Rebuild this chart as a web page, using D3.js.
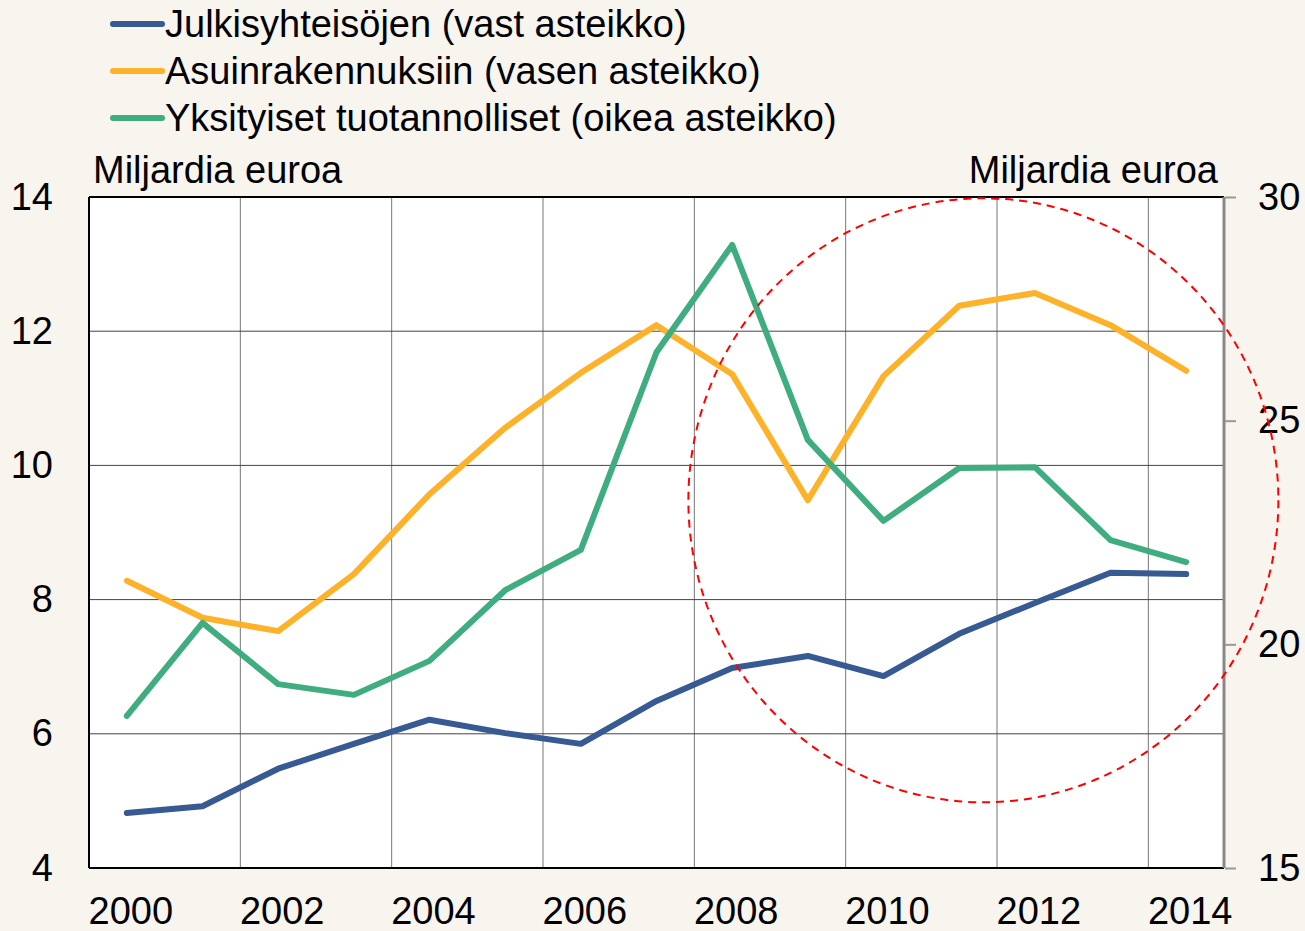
<!DOCTYPE html>
<html><head><meta charset="utf-8">
<script src="https://cdnjs.cloudflare.com/ajax/libs/d3/7.8.5/d3.min.js"></script>
<style>
html,body{margin:0;padding:0;background:#f8f4ee;}
svg{display:block;font-family:"Liberation Sans",Arial,sans-serif;}
</style></head><body>
<script>
const years = [2000,2001,2002,2003,2004,2005,2006,2007,2008,2009,2010,2011,2012,2013,2014];
const julkis = [4.82,4.92,5.48,5.85,6.21,6.01,5.85,6.49,6.98,7.16,6.86,7.49,7.95,8.40,8.38];
const asuin = [8.28,7.73,7.53,8.38,9.57,10.56,11.38,12.09,11.36,9.48,11.33,12.38,12.57,12.09,11.41];
const yksit = [18.40,20.48,19.11,18.87,19.63,21.21,22.11,26.53,28.93,24.57,22.76,23.94,23.96,22.33,21.84];
const leftTicks = [4,6,8,10,12,14];
const rightTicks = [15,20,25,30];
const xTickYears = [2000,2002,2004,2006,2008,2010,2012,2014];
const legendLabels = ["Julkisyhteisöjen (vast asteikko)","Asuinrakennuksiin (vasen asteikko)","Yksityiset tuotannolliset (oikea asteikko)"];
const colors = ["#365a91","#fdb22a","#40ad80"];
const unitLabel = "Miljardia euroa";

const W=1305,H=931;
const L=89,R=1224,T=197,B=868;
const FS=38;
const svg=d3.select("body").append("svg").attr("width",W).attr("height",H);
svg.append("rect").attr("width",W).attr("height",H).attr("fill","#f8f4ee");

const x=d3.scaleLinear().domain([2000,2015]).range([L,R]);
const yL=d3.scaleLinear().domain([4,14]).range([B,T]);
const yR=d3.scaleLinear().domain([15,30]).range([B,T]);

svg.append("rect").attr("x",L).attr("y",T).attr("width",R-L).attr("height",B-T).attr("fill","#fff");

// grid
svg.append("g").selectAll("line").data(xTickYears.slice(1)).join("line")
 .attr("x1",d=>x(d)).attr("x2",d=>x(d)).attr("y1",T).attr("y2",B)
 .attr("stroke","#777").attr("stroke-width",1);
svg.append("g").selectAll("line").data(leftTicks.slice(1,-1)).join("line")
 .attr("x1",L).attr("x2",R).attr("y1",d=>yL(d)).attr("y2",d=>yL(d))
 .attr("stroke","#444").attr("stroke-width",1);

// frame
svg.append("line").attr("x1",L).attr("x2",R).attr("y1",T).attr("y2",T).attr("stroke","#000").attr("stroke-width",2);
svg.append("line").attr("x1",L).attr("x2",R).attr("y1",B).attr("y2",B).attr("stroke","#000").attr("stroke-width",2);
svg.append("line").attr("x1",L).attr("x2",L).attr("y1",T).attr("y2",B).attr("stroke","#000").attr("stroke-width",2);
svg.append("line").attr("x1",R).attr("x2",R).attr("y1",T).attr("y2",B).attr("stroke","#888").attr("stroke-width",3);

// right axis ticks
const rAx=d3.axisRight(yR).tickValues(rightTicks).tickSize(11).tickFormat(d3.format("d")).tickPadding(22);
const gR=svg.append("g").attr("transform",`translate(${R+1},0)`).call(rAx);
gR.select(".domain").remove();
gR.selectAll(".tick line").attr("stroke","#999").attr("stroke-width",2);
gR.selectAll("text").attr("font-size",FS).attr("fill","#000").attr("font-family","Liberation Sans, Arial, sans-serif");

// left axis labels
const lAx=d3.axisLeft(yL).tickValues(leftTicks).tickSize(0).tickPadding(36).tickFormat(d3.format("d"));
const gL=svg.append("g").attr("transform",`translate(${L},0)`).call(lAx);
gL.select(".domain").remove();
gL.selectAll("text").attr("font-size",FS).attr("fill","#000").attr("font-family","Liberation Sans, Arial, sans-serif");

// x labels
svg.append("g").selectAll("text").data(xTickYears).join("text")
 .attr("x",d=>x(d+0.5)+4).attr("y",924).attr("text-anchor","middle")
 .attr("font-size",FS).attr("fill","#000").text(d=>d);

// lines
const series=[{v:julkis,s:yL},{v:asuin,s:yL},{v:yksit,s:yR}];
series.forEach((ser,i)=>{
 const line=d3.line().x((d,j)=>x(years[j]+0.5)).y(d=>ser.s(d));
 svg.append("path").datum(ser.v).attr("d",line).attr("fill","none")
  .attr("stroke",colors[i]).attr("stroke-width",6).attr("stroke-linecap","round").attr("stroke-linejoin","round");
});

// red dashed circle
svg.append("ellipse").attr("cx",x(2011.82)).attr("cy",yL(9.48)).attr("rx",295).attr("ry",302)
 .attr("fill","none").attr("stroke","#f00").attr("stroke-width",2).attr("stroke-dasharray","8,6");

// unit labels
svg.append("text").attr("x",93).attr("y",183).attr("font-size",FS).text(unitLabel);
svg.append("text").attr("x",1218).attr("y",183).attr("font-size",FS).attr("text-anchor","end").text(unitLabel);

// legend
const lg=svg.append("g");
legendLabels.forEach((t,i)=>{
 const yy=24+i*47;
 lg.append("line").attr("x1",113).attr("x2",162).attr("y1",yy).attr("y2",yy).attr("stroke",colors[i]).attr("stroke-width",6).attr("stroke-linecap","round");
 lg.append("text").attr("x",165).attr("y",yy+13).attr("font-size",FS).text(t);
});
</script>
</body></html>
